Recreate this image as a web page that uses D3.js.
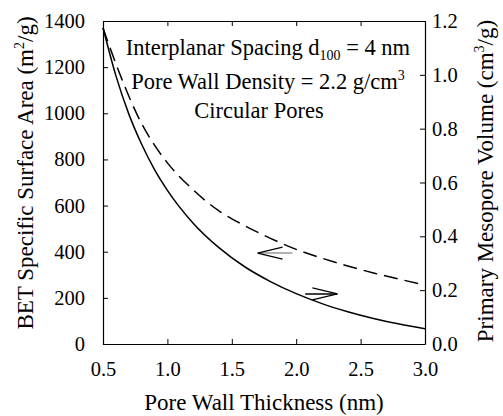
<!DOCTYPE html>
<html>
<head>
<meta charset="utf-8">
<script src="https://cdn.jsdelivr.net/npm/d3@7"></script>
<style>
  body { margin: 0; background: #fff; }
  svg text { font-family: "Liberation Serif", "Times New Roman", serif !important; fill: #000; }
</style>
</head>
<body>
<div id="chart"></div>
<script>
// wall thickness (nm)
var thickness = [0.5, 0.6, 0.7, 0.8, 0.9, 1.0, 1.2, 1.4, 1.6, 1.8, 2.0, 2.2, 2.4, 2.6, 2.8, 3.0];
// BET surface area (m2/g), dashed, left axis
var surfaceArea = [1370, 1215, 1075, 955, 862, 785, 668, 577, 513, 458, 410, 372, 338, 308, 281, 256];
// primary mesopore volume (cm3/g), solid, right axis
var poreVolume = [1.175, 0.997, 0.855, 0.742, 0.648, 0.571, 0.449, 0.358, 0.287, 0.232, 0.187, 0.150, 0.120, 0.095, 0.074, 0.057];

var xTicks = [0.5, 1.0, 1.5, 2.0, 2.5, 3.0];
var leftTicks = [0, 200, 400, 600, 800, 1000, 1200, 1400];
var rightTicks = [0.0, 0.2, 0.4, 0.6, 0.8, 1.0, 1.2];

var svgWidth = 503;
var svgHeight = 416;

var margin = {top: 21, right: 78, bottom: 72, left: 103};
var tickFont = "20.5px";
var labelFont = "23px";
var noteFont = "22.5px";

var svg = d3.select("#chart")
    .append("svg")
    .attr("width", svgWidth)
    .attr("height", svgHeight);

var x = d3.scaleLinear().domain([0.5, 3.0]).range([margin.left, svgWidth - margin.right]);
var yLeft = d3.scaleLinear().domain([0, 1400]).range([svgHeight - margin.bottom, margin.top]);
var yRight = d3.scaleLinear().domain([0, 1.2]).range([svgHeight - margin.bottom, margin.top]);

var x0 = x.range()[0], x1 = x.range()[1];
var yb = yLeft.range()[0], yt = yLeft.range()[1];

// axes, ticks point inward
svg.append("g")
    .attr("transform", `translate(0,${yb})`)
    .call(d3.axisBottom(x).tickValues(xTicks).tickFormat(d3.format(".1f")).tickSizeInner(-5).tickSizeOuter(0).tickPadding(17));
svg.append("g")
    .attr("transform", `translate(0,${yt})`)
    .call(d3.axisTop(x).tickValues(xTicks).tickFormat("").tickSizeInner(-5).tickSizeOuter(0));
svg.append("g")
    .attr("transform", `translate(${x0},0)`)
    .call(d3.axisLeft(yLeft).tickValues(leftTicks).tickFormat(d3.format("d")).tickSizeInner(-5).tickSizeOuter(0).tickPadding(18));
svg.append("g")
    .attr("transform", `translate(${x1},0)`)
    .call(d3.axisRight(yRight).tickValues(rightTicks).tickFormat(d3.format(".1f")).tickSizeInner(-5).tickSizeOuter(0).tickPadding(7));

svg.selectAll("g").attr("font-family", null);
svg.selectAll(".domain").attr("stroke", "#000").attr("stroke-width", 1.2);
svg.selectAll(".tick line").attr("stroke", "#000").attr("stroke-width", 1);
svg.selectAll(".tick text").style("font-size", tickFont);

var areaLine = d3.line()
    .x((d, i) => x(thickness[i]))
    .y(d => yLeft(d))
    .curve(d3.curveMonotoneX);
var volLine = d3.line()
    .x((d, i) => x(thickness[i]))
    .y(d => yRight(d))
    .curve(d3.curveMonotoneX);

svg.append("path")
    .attr("d", areaLine(surfaceArea))
    .attr("fill", "none")
    .attr("stroke", "#000")
    .attr("stroke-width", 1.5)
    .attr("stroke-dasharray", "14,7");

svg.append("path")
    .attr("d", volLine(poreVolume))
    .attr("fill", "none")
    .attr("stroke", "#000")
    .attr("stroke-width", 1.5);

// arrows: the dashed curve goes with the left axis, the solid one with the right axis
function arrow(tailX, tipX, yVal, shaftColor) {
    var ty = yLeft(yVal);
    var dir = tipX > tailX ? -1 : 1;
    svg.append("line")
        .attr("x1", x(tailX)).attr("y1", ty)
        .attr("x2", x(tipX)).attr("y2", ty)
        .attr("stroke", shaftColor).attr("stroke-width", 1.5);
    svg.append("path")
        .attr("d", `M${x(tipX) + dir * 25},${ty - 6}L${x(tipX)},${ty}L${x(tipX) + dir * 25},${ty + 6}`)
        .attr("fill", "none").attr("stroke", "#000").attr("stroke-width", 1.2);
}
arrow(1.97, 1.70, 394, "#999");
arrow(2.07, 2.32, 217, "#000");

// annotation
var cx = 268;
var t1 = svg.append("text").attr("x", cx).attr("y", 55).attr("text-anchor", "middle").style("font-size", noteFont);
t1.append("tspan").text("Interplanar Spacing d");
t1.append("tspan").attr("dy", 5).style("font-size", "14px").text("100");
t1.append("tspan").attr("dy", -5).text(" = 4 nm");

var t2 = svg.append("text").attr("x", cx).attr("y", 89).attr("text-anchor", "middle").style("font-size", noteFont);
t2.append("tspan").text("Pore Wall Density = 2.2 g/cm");
t2.append("tspan").attr("dy", -9).style("font-size", "14px").text("3");

svg.append("text").attr("x", cx - 9).attr("y", 118).attr("text-anchor", "middle").style("font-size", noteFont)
    .text("Circular Pores");

// axis titles
svg.append("text")
    .attr("x", (x0 + x1) / 2).attr("y", 410)
    .attr("text-anchor", "middle").style("font-size", labelFont)
    .text("Pore Wall Thickness (nm)");

var lt = svg.append("text")
    .attr("transform", "translate(33,173) rotate(-90)")
    .attr("text-anchor", "middle").style("font-size", labelFont);
lt.append("tspan").text("BET Specific Surface Area (m");
lt.append("tspan").attr("dy", -9).style("font-size", "14px").text("2");
lt.append("tspan").attr("dy", 9).text("/g)");

var rt = svg.append("text")
    .attr("transform", "translate(493,181) rotate(-90)")
    .attr("text-anchor", "middle").style("font-size", labelFont);
rt.append("tspan").text("Primary Mesopore Volume (cm");
rt.append("tspan").attr("dy", -9).style("font-size", "14px").text("3");
rt.append("tspan").attr("dy", 9).text("/g)");
</script>
</body>
</html>
